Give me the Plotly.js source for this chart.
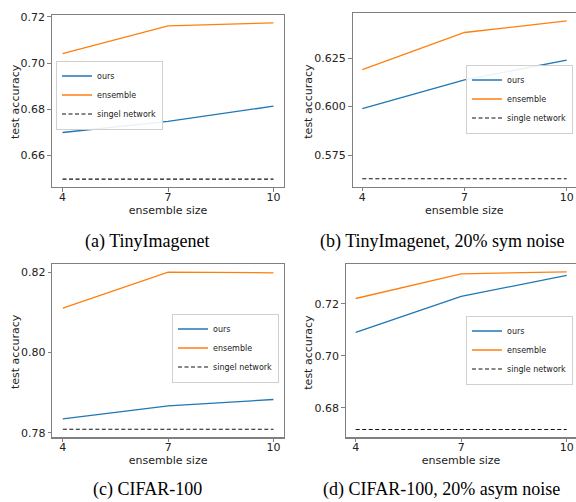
<!DOCTYPE html>
<html>
<head>
<meta charset="utf-8">
<script src="https://cdn.plot.ly/plotly-3.0.1.min.js"></script>
<style>html,body{margin:0;padding:0;background:#fff;}#chart{width:576px;height:502px;}</style>
</head>
<body>
<div id="chart"></div>
<script>
// ---- data ----
const ensembleSizes = [4, 7, 10];
const xTickLabels = ["4", "7", "10"];

const aOurs = [0.6699, 0.6747, 0.6813];
const aEnsemble = [0.7041, 0.7161, 0.7174];
const aSingle = [0.6497, 0.6497, 0.6497];

const bOurs = [0.5990, 0.6138, 0.6239];
const bEnsemble = [0.6191, 0.6382, 0.6442];
const bSingle = [0.5628, 0.5628, 0.5628];

const cOurs = [0.7835, 0.7867, 0.7883];
const cEnsemble = [0.8110, 0.8200, 0.8198];
const cSingle = [0.7809, 0.7809, 0.7809];

const dOurs = [0.7090, 0.7229, 0.7310];
const dEnsemble = [0.7221, 0.7316, 0.7324];
const dSingle = [0.6716, 0.6716, 0.6716];

const seriesNames = ["ours", "ensemble"];
const singleNamesTypo = "singel network";
const singleNames = "single network";
const captions = ["(a) TinyImagenet", "(b) TinyImagenet, 20% sym noise", "(c) CIFAR-100", "(d) CIFAR-100, 20% asym noise"];
const xTitle = "ensemble size";
const yTitle = "test accuracy";

// ---- styling ----
const BLUE = "#1f77b4", ORANGE = "#ff7f0e";
const FONT = "DejaVu Sans, sans-serif";

function panel(idx, ours, ens, single, singleName) {
  const xa = idx === 1 ? "x" : "x" + idx;
  const ya = idx === 1 ? "y" : "y" + idx;
  const lg = idx === 1 ? "legend" : "legend" + idx;
  return [
    {x: ensembleSizes, y: ours, name: seriesNames[0], mode: "lines", line: {color: BLUE, width: 1.3}, xaxis: xa, yaxis: ya, legend: lg},
    {x: ensembleSizes, y: ens, name: seriesNames[1], mode: "lines", line: {color: ORANGE, width: 1.3}, xaxis: xa, yaxis: ya, legend: lg},
    {x: ensembleSizes, y: single, name: singleName, mode: "lines", line: {color: "#111", width: 1.1, dash: "4px,2.5px"}, xaxis: xa, yaxis: ya, legend: lg}
  ];
}

const data = [].concat(
  panel(1, aOurs, aEnsemble, aSingle, singleNamesTypo),
  panel(2, bOurs, bEnsemble, bSingle, singleNames),
  panel(3, cOurs, cEnsemble, cSingle, singleNamesTypo),
  panel(4, dOurs, dEnsemble, dSingle, singleNames)
);

const W = 576, H = 502;
function xd(l, r) { return [l / W, Math.min(1, r / W)]; }
function yd(t, b) { return [1 - b / H, 1 - t / H]; }

function xaxis(dom, range, anchor, mirrorTop) {
  return {
    domain: dom, range: range, anchor: anchor,
    tickvals: ensembleSizes, ticktext: xTickLabels,
    showgrid: false, zeroline: false,
    showline: true, linecolor: "#808080", linewidth: 1.2, mirror: mirrorTop,
    ticks: "outside", ticklen: 3.5, tickcolor: "#808080", tickwidth: 1,
    ticklabelstandoff: -4,
    tickfont: {family: FONT, size: 11, color: "#222"},
    title: {text: xTitle, font: {family: FONT, size: 11, color: "#222"}, standoff: 2}
  };
}
function yaxis(dom, range, anchor, ticks, fmt, mirrorRight) {
  return {
    domain: dom, range: range, anchor: anchor,
    tickvals: ticks, tickformat: fmt,
    showgrid: false, zeroline: false,
    showline: true, linecolor: "#808080", linewidth: 1.2, mirror: mirrorRight,
    ticks: "outside", ticklen: 3.5, tickcolor: "#808080", tickwidth: 1,
    tickfont: {family: FONT, size: 11, color: "#222"}
  };
}
function legend(x, y, xanchor) {
  return {
    x: x, y: y, xanchor: xanchor, yanchor: "middle", xref: "paper", yref: "paper",
    bgcolor: "rgba(255,255,255,0.9)", bordercolor: "#d0d0d0", borderwidth: 1,
    font: {family: FONT, size: 8, color: "#222"}, itemwidth: 30, tracegroupgap: 0
  };
}

const yTitleAnn = [
  {x: 15, y: 102}, {x: 307.7, y: 101}, {x: 15, y: 352}, {x: 307.7, y: 352}
].map(p => ({
  text: yTitle, x: p.x / W, y: 1 - p.y / H, xref: "paper", yref: "paper",
  xanchor: "center", yanchor: "middle", textangle: -90, showarrow: false,
  font: {family: FONT, size: 11, color: "#222"}
}));

const captionAnn = [
  {x: 147, y: 241}, {x: 442, y: 241}, {x: 147, y: 489}, {x: 441, y: 489}
].map((p, i) => ({
  text: captions[i], x: p.x / W, y: 1 - p.y / H, xref: "paper", yref: "paper",
  xanchor: "center", yanchor: "middle", showarrow: false,
  font: {family: "Liberation Serif, Times New Roman, serif", size: 18, color: "#000"}
}));

const layout = {
  width: W, height: H,
  margin: {l: 0, r: 0, t: 0, b: 0},
  paper_bgcolor: "#fff", plot_bgcolor: "#fff",
  showlegend: true,
  xaxis: xaxis(xd(52, 284), [3.7, 10.3], "y", true),
  yaxis: yaxis(yd(15, 187), [0.6463, 0.7208], "x", [0.66, 0.68, 0.70, 0.72], ".2f", true),
  xaxis2: xaxis(xd(352.7, 576), [3.718, 10.273], "y2", true),
  yaxis2: yaxis(yd(12.7, 186.7), [0.5587, 0.6484], "x2", [0.575, 0.600, 0.625], ".3f", false),
  xaxis3: xaxis(xd(52.3, 284), [3.7, 10.3], "y3", true),
  yaxis3: yaxis(yd(264, 437.3), [0.7789, 0.8220], "x3", [0.78, 0.80, 0.82], ".2f", true),
  xaxis4: xaxis(xd(346, 576), [3.724, 10.264], "y4", true),
  yaxis4: yaxis(yd(264, 437.3), [0.6686, 0.7354], "x4", [0.68, 0.70, 0.72], ".2f", false),
  legend: legend(56 / W, 1 - 95 / H, "left"),
  legend2: legend(573 / W, 1 - 99 / H, "right"),
  legend3: legend(279 / W, 1 - 348 / H, "right"),
  legend4: legend(573 / W, 1 - 350 / H, "right"),
  annotations: yTitleAnn.concat(captionAnn)
};

Plotly.newPlot("chart", data, layout, {displayModeBar: false, staticPlot: true});
</script>
</body>
</html>
